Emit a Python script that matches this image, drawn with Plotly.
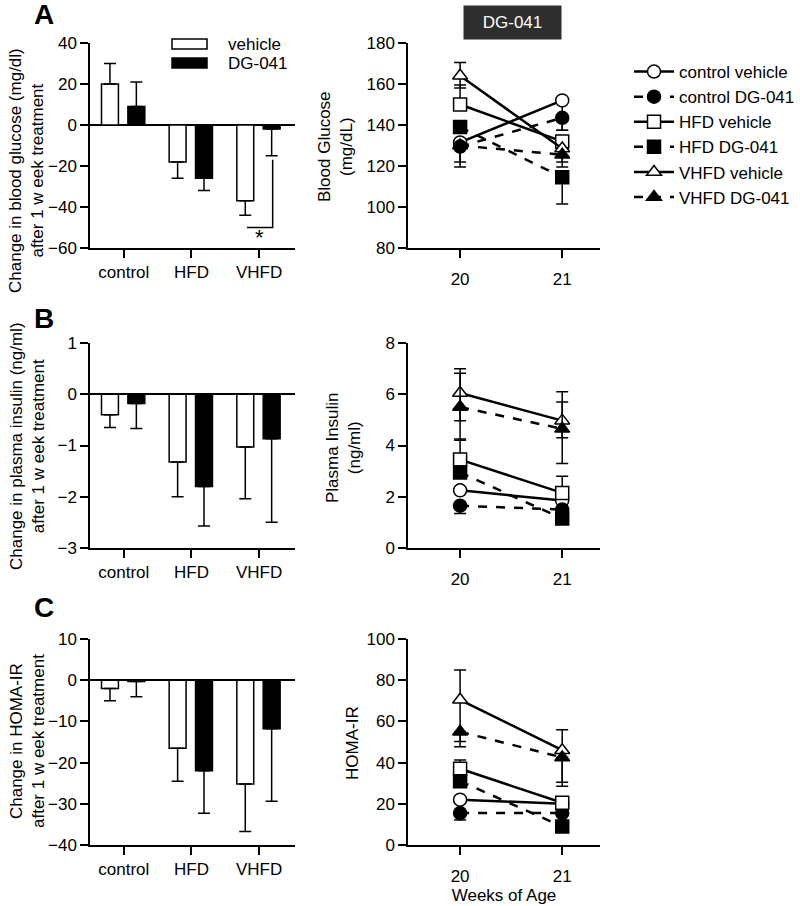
import plotly.graph_objects as go

# ---------------- data ----------------
CATEGORIES = ["control", "HFD", "VHFD"]
CAT_POS = [0, 1, 2]

# Panel A (left): change in blood glucose after 1 week (mg/dl)
GLU_CHG_VEH = [20.0, -18.0, -37.0]
GLU_CHG_VEH_ERR = [10.0, 8.0, 7.0]
GLU_CHG_DG = [9.0, -26.0, -2.0]
GLU_CHG_DG_ERR = [12.0, 6.0, 13.0]

# Panel B (left): change in plasma insulin (ng/ml)
INS_CHG_VEH = [-0.40, -1.32, -1.03]
INS_CHG_VEH_ERR = [0.25, 0.68, 1.01]
INS_CHG_DG = [-0.18, -1.80, -0.87]
INS_CHG_DG_ERR = [0.49, 0.77, 1.63]

# Panel C (left): change in HOMA-IR
HOMA_CHG_VEH = [-2.0, -16.5, -25.2]
HOMA_CHG_VEH_ERR = [3.0, 8.0, 11.5]
HOMA_CHG_DG = [-0.3, -22.0, -11.8]
HOMA_CHG_DG_ERR = [3.7, 10.3, 17.6]

WEEKS = [20, 21]
SERIES = ["control vehicle", "control DG-041", "HFD vehicle",
          "HFD DG-041", "VHFD vehicle", "VHFD DG-041"]

# Panel A (right): blood glucose (mg/dL)
GLU = {
    "control vehicle": [131.5, 152.0],
    "control DG-041": [129.5, 143.5],
    "HFD vehicle": [150.0, 132.0],
    "HFD DG-041": [139.0, 114.5],
    "VHFD vehicle": [164.0, 128.5],
    "VHFD DG-041": [130.0, 125.5],
}
GLU_ERR_UP = {
    "control vehicle": [0, 0], "control DG-041": [0, 0],
    "HFD vehicle": [9.5, 0], "HFD DG-041": [0, 0],
    "VHFD vehicle": [6.5, 0], "VHFD DG-041": [0, 0],
}
GLU_ERR_DOWN = {
    "control vehicle": [9.5, 14.5], "control DG-041": [10.0, 6.0],
    "HFD vehicle": [0, 0], "HFD DG-041": [0, 13.0],
    "VHFD vehicle": [6.0, 6.5], "VHFD DG-041": [0, 6.0],
}

# Panel B (right): plasma insulin (ng/ml)
INS = {
    "control vehicle": [2.25, 1.85],
    "control DG-041": [1.65, 1.50],
    "HFD vehicle": [3.45, 2.15],
    "HFD DG-041": [2.95, 1.15],
    "VHFD vehicle": [6.05, 4.97],
    "VHFD DG-041": [5.50, 4.65],
}
INS_ERR_UP = {
    "control vehicle": [0, 0], "control DG-041": [0, 0],
    "HFD vehicle": [0.80, 0.65], "HFD DG-041": [0, 0],
    "VHFD vehicle": [0.95, 1.13], "VHFD DG-041": [1.32, 1.05],
}
INS_ERR_DOWN = {
    "control vehicle": [0, 0], "control DG-041": [0.30, 0],
    "HFD vehicle": [0, 0], "HFD DG-041": [0, 0],
    "VHFD vehicle": [1.08, 1.67], "VHFD DG-041": [1.30, 0.35],
}

# Panel C (right): HOMA-IR
HOMA = {
    "control vehicle": [22.0, 20.0],
    "control DG-041": [15.5, 15.5],
    "HFD vehicle": [37.0, 20.5],
    "HFD DG-041": [31.0, 9.0],
    "VHFD vehicle": [70.5, 46.0],
    "VHFD DG-041": [55.0, 42.5],
}
HOMA_ERR_UP = {
    "control vehicle": [0, 0], "control DG-041": [0, 0],
    "HFD vehicle": [4.3, 0], "HFD DG-041": [0, 0],
    "VHFD vehicle": [14.5, 10.0], "VHFD DG-041": [0, 0],
}
HOMA_ERR_DOWN = {
    "control vehicle": [0, 0], "control DG-041": [3.4, 0],
    "HFD vehicle": [0, 0], "HFD DG-041": [0, 0],
    "VHFD vehicle": [20.3, 15.5], "VHFD DG-041": [7.3, 14.0],
}

# ---------------- styling ----------------
FONT = "Liberation Sans, Arial, sans-serif"
BLACK = "#000000"
STYLE = {
    "control vehicle": ("circle", "white", "solid"),
    "control DG-041": ("circle", BLACK, "dash"),
    "HFD vehicle": ("square", "white", "solid"),
    "HFD DG-041": ("square", BLACK, "dash"),
    "VHFD vehicle": ("triangle-up", "white", "solid"),
    "VHFD DG-041": ("triangle-up", BLACK, "dash"),
}

fig = go.Figure()


def away_from_zero(vals, errs):
    up = [e if v >= 0 else 0 for v, e in zip(vals, errs)]
    dn = [e if v < 0 else 0 for v, e in zip(vals, errs)]
    return up, dn


def add_bars(vals, errs, fill, offset, xa, ya, name):
    up, dn = away_from_zero(vals, errs)
    fig.add_trace(go.Bar(
        x=CAT_POS, y=vals, width=0.25, offset=offset,
        marker=dict(color=fill, line=dict(color=BLACK, width=1.5)),
        error_y=dict(type="data", symmetric=False, array=up, arrayminus=dn,
                     color=BLACK, thickness=1.5, width=6),
        xaxis=xa, yaxis=ya, name=name, showlegend=False,
    ))


for (veh, veh_e, dg, dg_e, xa, ya) in [
    (GLU_CHG_VEH, GLU_CHG_VEH_ERR, GLU_CHG_DG, GLU_CHG_DG_ERR, "x", "y"),
    (INS_CHG_VEH, INS_CHG_VEH_ERR, INS_CHG_DG, INS_CHG_DG_ERR, "x3", "y3"),
    (HOMA_CHG_VEH, HOMA_CHG_VEH_ERR, HOMA_CHG_DG, HOMA_CHG_DG_ERR, "x5", "y5"),
]:
    add_bars(veh, veh_e, "white", -0.33, xa, ya, "vehicle")
    add_bars(dg, dg_e, BLACK, 0.06, xa, ya, "DG-041")


def add_lines(data, eup, edn, xa, ya, show):
    for s in SERIES:
        sym, fill, dash = STYLE[s]
        fig.add_trace(go.Scatter(
            x=WEEKS, y=data[s], mode="lines+markers", name=s,
            line=dict(color=BLACK, width=2.5, dash=dash),
            marker=dict(symbol=sym, size=13, color=fill,
                        line=dict(color=BLACK, width=1.5)),
            error_y=dict(type="data", symmetric=False, array=eup[s],
                         arrayminus=edn[s], color=BLACK, thickness=1.5, width=6),
            xaxis=xa, yaxis=ya, showlegend=show,
        ))


add_lines(GLU, GLU_ERR_UP, GLU_ERR_DOWN, "x2", "y2", True)
add_lines(INS, INS_ERR_UP, INS_ERR_DOWN, "x4", "y4", False)
add_lines(HOMA, HOMA_ERR_UP, HOMA_ERR_DOWN, "x6", "y6", False)

# ---------------- axes ----------------
W, H = 800, 906
LEFT_DOM = [90 / W, 295 / W]
RIGHT_DOM = [408 / W, 600 / W]
ROW_DOM = [
    [1 - 248 / H, 1 - 43 / H],
    [1 - 548 / H, 1 - 343 / H],
    [1 - 845 / H, 1 - 639 / H],
]

base = dict(showline=True, linecolor=BLACK, linewidth=1.5, ticks="outside",
            ticklen=8, tickwidth=1.5, tickcolor=BLACK, showgrid=False,
            zeroline=False, automargin=False,
            tickfont=dict(family=FONT, size=17, color=BLACK))

layout_axes = {}
Y_LEFT = [([-60, 40], [-60, -40, -20, 0, 20, 40]),
          ([-3, 1], [-3, -2, -1, 0, 1]),
          ([-40, 10], [-40, -30, -20, -10, 0, 10])]
Y_RIGHT = [([80, 180], [80, 100, 120, 140, 160, 180]),
           ([0, 8], [0, 2, 4, 6, 8]),
           ([0, 100], [0, 20, 40, 60, 80, 100])]


def ax_key(prefix, i):
    return f"{prefix}axis" if i == 1 else f"{prefix}axis{i}"


def ax_ref(prefix, i):
    return prefix if i == 1 else f"{prefix}{i}"


for r in range(3):
    li = 2 * r + 1
    ri = 2 * r + 2
    layout_axes[ax_key("x", li)] = dict(base, domain=LEFT_DOM, range=[-0.5, 2.53],
                                        tickvals=CAT_POS, ticktext=CATEGORIES,
                                        anchor=ax_ref("y", li))
    layout_axes[ax_key("y", li)] = dict(base, domain=ROW_DOM[r], range=Y_LEFT[r][0],
                                        tickvals=Y_LEFT[r][1], anchor=ax_ref("x", li),
                                        zeroline=True, zerolinecolor=BLACK,
                                        zerolinewidth=1.5)
    layout_axes[ax_key("x", ri)] = dict(base, domain=RIGHT_DOM, range=[19.49, 21.37],
                                        tickvals=WEEKS, anchor=ax_ref("y", ri),
                                        ticklabelstandoff=7)
    layout_axes[ax_key("y", ri)] = dict(base, domain=ROW_DOM[r], range=Y_RIGHT[r][0],
                                        tickvals=Y_RIGHT[r][1], anchor=ax_ref("x", ri))

layout_axes["xaxis6"]["title"] = dict(text="Weeks of Age", standoff=0,
                                      font=dict(family=FONT, size=17, color=BLACK))


def px(xp):
    return xp / W


def py(yp):
    return 1 - yp / H


def note(text, xp, yp, size=17, angle=0, xanchor="center", **kw):
    d = dict(text=text, x=px(xp), y=py(yp), xref="paper", yref="paper",
             xanchor=xanchor, yanchor="middle", showarrow=False,
             textangle=angle, font=dict(family=FONT, size=size,
                                        color=kw.pop("color", BLACK)))
    d.update(kw)
    return d


ann = []
for letter, yp in [("A", 15), ("B", 318), ("C", 607)]:
    ann.append(note(f"<b>{letter}</b>", 44, yp, size=28))

for t, yp in [
    ("Change in blood glucose (mg/dl)<br>after 1 w eek treatment", 171),
    ("Change in plasma insulin (ng/ml)<br>after 1 w eek treatment", 446),
    ("Change in HOMA-IR<br>after 1 w eek treatment", 741),
]:
    ann.append(note(t, 27, yp, angle=-90))

for t, xp, yp in [
    ("Blood Glucose<br>(mg/dL)", 335, 147),
    ("Plasma Insulin<br>(ng/ml)", 343, 448),
    ("HOMA-IR", 352, 743),
]:
    ann.append(note(t, xp, yp, angle=-90))

# DG-041 header box
ann.append(note("DG-041", 512.5, 22.5, color="white", width=95, height=31,
                bgcolor="#2e2e2e"))

# bar legend (panel A): wide swatches + labels
BAR_LEGEND = [("vehicle", "white", 44), ("DG-041", BLACK, 63)]
shapes = []
for label, fill, yp in BAR_LEGEND:
    shapes.append(dict(type="rect", xref="paper", yref="paper",
                       x0=px(172), x1=px(207), y0=py(yp + 5), y1=py(yp - 5),
                       fillcolor=fill, line=dict(color=BLACK, width=1.5)))
    ann.append(note(label, 226, yp, size=17, xanchor="left"))

# significance bracket + star (panel A, VHFD vehicle vs DG-041)
SIG_X = [1.82, 2.2]
SIG_Y_LOW = -50
SIG_Y_TOP = -17
ann.append(dict(text="*", x=sum(SIG_X) / 2, y=-55, xref="x", yref="y",
                xanchor="center", yanchor="middle", showarrow=False,
                font=dict(family=FONT, size=22, color=BLACK)))
shapes.append(dict(type="path", xref="x", yref="y",
                   path=f"M {SIG_X[0]},{SIG_Y_LOW} L {SIG_X[1]},{SIG_Y_LOW} L {SIG_X[1]},{SIG_Y_TOP}",
                   line=dict(color=BLACK, width=1.5)))

fig.update_layout(
    width=W, height=H,
    margin=dict(l=0, r=0, t=0, b=0, autoexpand=False),
    paper_bgcolor="white", plot_bgcolor="white",
    barmode="overlay", hovermode=False,
    font=dict(family=FONT, size=17, color=BLACK),
    annotations=ann, shapes=shapes,
    legend=dict(x=px(629), y=py(54), xanchor="left", yanchor="top",
                font=dict(family=FONT, size=17, color=BLACK),
                itemwidth=40, tracegroupgap=0, bgcolor="rgba(0,0,0,0)"),
    **layout_axes,
)

fig.write_html(
    "out.html",
    config={"displayModeBar": False},
    post_script="document.body.style.margin='0px';document.body.style.padding='0px';",
)
